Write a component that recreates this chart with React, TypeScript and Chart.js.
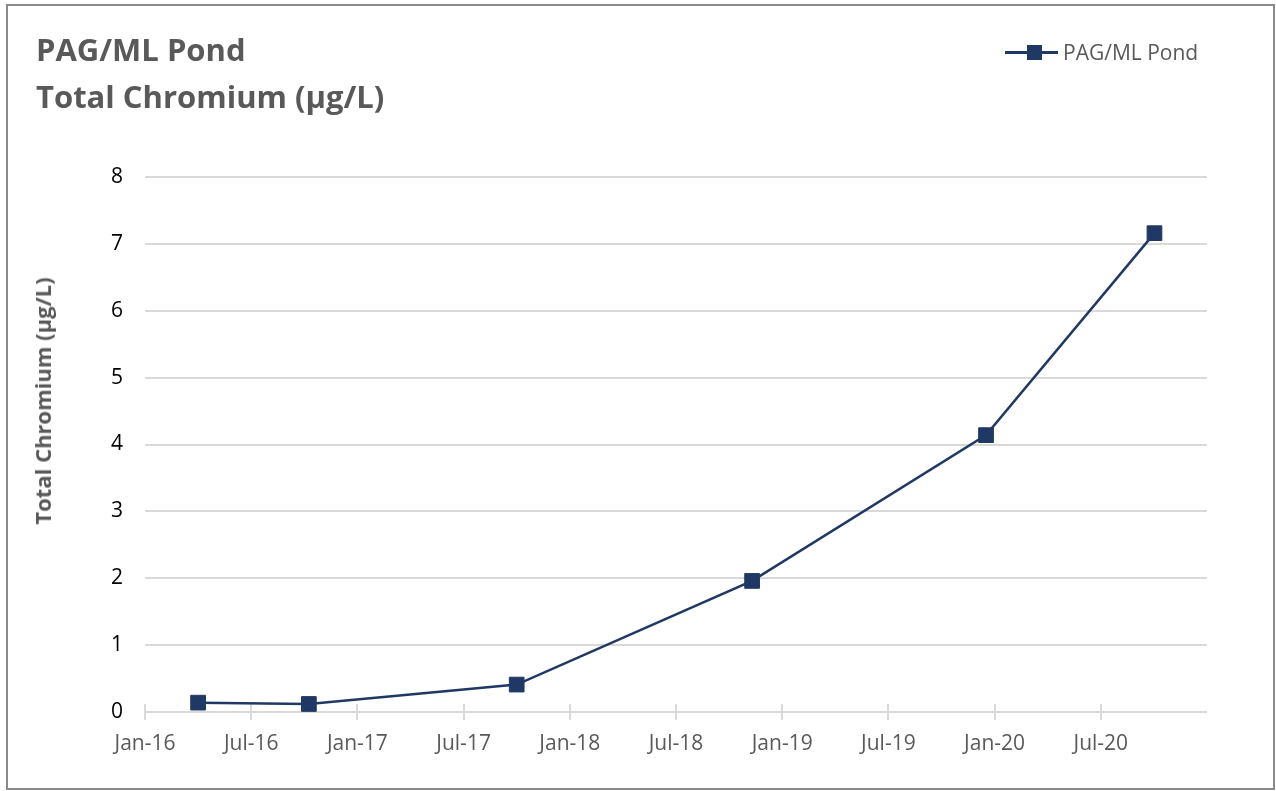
import React, { useEffect, useRef } from 'react';
import { Chart, registerables } from 'chart.js';

Chart.register(...registerables);

const chartTitleLines = ['PAG/ML Pond', 'Total Chromium (µg/L)'];
const yAxisTitle = 'Total Chromium (µg/L)';
const seriesName = 'PAG/ML Pond';
const sampleDates = ['2016-04-01', '2016-10-09', '2017-10-01', '2018-11-10', '2019-12-17', '2020-10-02'];
const chromiumValues = [0.14, 0.12, 0.41, 1.96, 4.14, 7.16];
const monthNames = ['Jan', 'Feb', 'Mar', 'Apr', 'May', 'Jun', 'Jul', 'Aug', 'Sep', 'Oct', 'Nov', 'Dec'];
const axisStartYear = 2016;
const xMaxMonths = 60;
const xStepMonths = 6;
const yMin = 0;
const yMax = 8;
const yStep = 1;

const FONT = "'Open Sans', 'DejaVu Sans', sans-serif";
const NAVY = '#203864';
const GRAY_TEXT = '#595959';
const GRID = '#d9d9d9';

function toMonths(d: string): number {
  const [y, m, dd] = d.split('-').map(Number);
  const dim = new Date(y, m, 0).getDate();
  return (y - axisStartYear) * 12 + (m - 1) + (dd - 1) / dim;
}

function monthLabel(v: number): string {
  const total = Math.round(v);
  const year = axisStartYear + Math.floor(total / 12);
  const mon = monthNames[((total % 12) + 12) % 12];
  return `${mon}-${String(year).slice(-2)}`;
}

const crossTicks = {
  id: 'crossTicks',
  beforeDatasetsDraw(chart: any) {
    const x = chart.scales.x;
    const bottom = chart.chartArea.bottom;
    const ctx = chart.ctx;
    ctx.save();
    ctx.strokeStyle = GRID;
    ctx.lineWidth = 2;
    x.ticks.forEach((t: any) => {
      const px = Math.round(x.getPixelForValue(t.value));
      ctx.beginPath();
      ctx.moveTo(px, bottom - 8);
      ctx.lineTo(px, bottom + 8);
      ctx.stroke();
    });
    ctx.restore();
  },
};

export default function App() {
  const canvasRef = useRef<HTMLCanvasElement | null>(null);

  useEffect(() => {
    if (!canvasRef.current) return;
    const points = sampleDates.map((d, i) => ({ x: toMonths(d), y: chromiumValues[i] }));
    const chart = new Chart(canvasRef.current, {
      type: 'line',
      data: {
        datasets: [
          {
            label: seriesName,
            data: points,
            borderColor: NAVY,
            backgroundColor: NAVY,
            borderWidth: 2.5,
            pointStyle: 'rect',
            pointRadius: 10.4,
            pointBackgroundColor: NAVY,
            pointBorderColor: NAVY,
            pointBorderWidth: 1,
            tension: 0,
            clip: false as any,
          },
        ],
      },
      plugins: [crossTicks],
      options: {
        animation: false,
        responsive: false,
        devicePixelRatio: 1,
        layout: { padding: { left: 0, right: 69, top: 177, bottom: 0 } },
        plugins: {
          legend: { display: false },
          title: { display: false },
          tooltip: { enabled: false },
        },
        scales: {
          x: {
            type: 'linear',
            min: 0,
            max: xMaxMonths,
            afterBuildTicks: (s: any) => {
              const t = [];
              for (let v = 0; v < xMaxMonths; v += xStepMonths) t.push({ value: v });
              s.ticks = t;
            },
            afterFit: (s: any) => {
              s.height = 79;
            },
            grid: { display: true, drawOnChartArea: false, drawTicks: false, color: 'rgba(0,0,0,0)' },
            border: { display: false },
            ticks: {
              autoSkip: false,
              maxRotation: 0,
              padding: 19,
              color: GRAY_TEXT,
              font: { family: FONT, size: 21 },
              callback: (v: any) => monthLabel(Number(v)),
            },
          },
          y: {
            type: 'linear',
            min: yMin,
            max: yMax,
            afterFit: (s: any) => {
              s.width = 145;
            },
            grid: { color: GRID, lineWidth: 2, drawTicks: false },
            border: { display: false },
            ticks: {
              stepSize: yStep,
              padding: 22,
              color: '#000000',
              font: { family: FONT, size: 21 },
            },
          },
        },
      } as any,
    });
    return () => chart.destroy();
  }, []);

  return (
    <div style={{ position: 'absolute', left: 0, top: 0, width: 1276, height: 791, background: '#ffffff', overflow: 'hidden' }}>
      <div
        style={{
          position: 'absolute',
          left: 6,
          top: 4,
          width: 1269,
          height: 786,
          boxSizing: 'border-box',
          border: '2px solid #8a8a8a',
        }}
      />
      <canvas ref={canvasRef} width={1276} height={791} style={{ position: 'absolute', left: 0, top: 0, width: 1276, height: 791 }} />
      <div
        style={{
          position: 'absolute',
          left: 36,
          top: 26,
          fontFamily: FONT,
          fontWeight: 700,
          fontSize: 31,
          lineHeight: '47px',
          color: GRAY_TEXT,
          whiteSpace: 'nowrap',
        }}
      >
        {chartTitleLines.map((l) => (
          <div key={l}>{l}</div>
        ))}
      </div>
      <div
        style={{
          position: 'absolute',
          left: 42,
          top: 401,
          transform: 'translate(-50%, -50%) rotate(-90deg)',
          fontFamily: FONT,
          fontWeight: 700,
          fontSize: 22,
          lineHeight: '26px',
          color: GRAY_TEXT,
          whiteSpace: 'nowrap',
        }}
      >
        {yAxisTitle}
      </div>
      <div style={{ position: 'absolute', left: 1005, top: 38, height: 28, width: 260 }}>
        <div style={{ position: 'absolute', left: 0, top: 13, width: 53, height: 2.5, background: NAVY }} />
        <div style={{ position: 'absolute', left: 22, top: 7, width: 15, height: 15, background: NAVY }} />
        <div
          style={{
            position: 'absolute',
            left: 58,
            top: 0,
            fontFamily: FONT,
            fontSize: 21,
            lineHeight: '28px',
            color: GRAY_TEXT,
            whiteSpace: 'nowrap',
          }}
        >
          {seriesName}
        </div>
      </div>
    </div>
  );
}
